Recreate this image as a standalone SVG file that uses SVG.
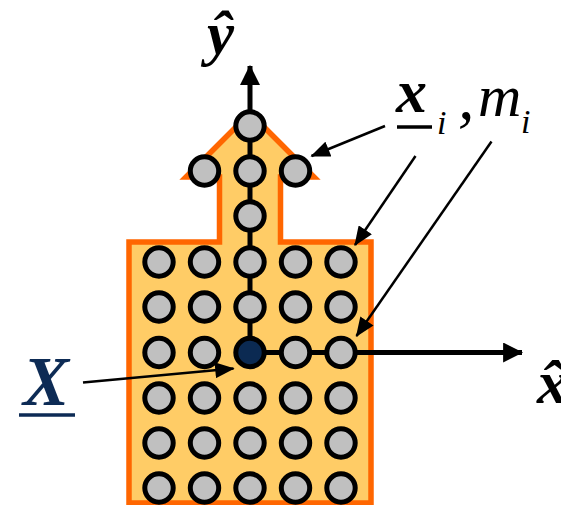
<svg xmlns="http://www.w3.org/2000/svg" width="561" height="505" viewBox="0 0 561 505">
<style>
.p{fill:#C0C0C0;stroke:#000;stroke-width:5}
.c{fill:#0B2A52;stroke:#000;stroke-width:5}
.ax{stroke:#000;stroke-width:5;fill:none}
.an{stroke:#000;stroke-width:2.5;fill:none}
.lbl{font-family:"Liberation Serif","Times New Roman",serif;fill:#000}
.bi{font-weight:bold;font-style:italic}
.it{font-style:italic}
</style>
<defs>
<marker id="axHead" markerUnits="userSpaceOnUse" markerWidth="20" markerHeight="20" viewBox="0 -9 18 18" refX="17" refY="0" orient="auto">
<path d="M0,-9 L18,0 L0,9 Z" fill="#000"/>
</marker>
<marker id="anHead" markerUnits="userSpaceOnUse" markerWidth="20" markerHeight="16" viewBox="0 -7 17 14" refX="16" refY="0" orient="auto">
<path d="M0,-7 L17,0 L0,7 Z" fill="#000"/>
</marker>
</defs>
<g id="body">
<path d="M129,242 H219.5 V177 H186 L250,113 L314,177 H280.5 V242 H371 V503 H129 Z" fill="#FFCC66" stroke="#FF6600" stroke-width="5.5" stroke-linejoin="miter"/>
</g>
<g id="connectors">
<line class="ax" x1="250" y1="352.5" x2="250" y2="66" marker-end="url(#axHead)"/>
<line class="ax" x1="250" y1="352.5" x2="522" y2="352.5" marker-end="url(#axHead)"/>
<line class="an" x1="385" y1="126" x2="311.5" y2="156" marker-end="url(#anHead)"/>
<line class="an" x1="415.5" y1="156" x2="355" y2="245" marker-end="url(#anHead)"/>
<line class="an" x1="491.5" y1="141.5" x2="356.5" y2="336" marker-end="url(#anHead)"/>
<line class="an" x1="83" y1="382.5" x2="233.5" y2="368.5" marker-end="url(#anHead)"/>
</g>
<g id="particles">
<g id="p-top"><circle class="p" cx="250" cy="126" r="14.2"/></g>
<g id="p-h1"><circle class="p" cx="204.5" cy="171" r="14.2"/></g>
<g id="p-h2"><circle class="p" cx="250" cy="171" r="14.2"/></g>
<g id="p-h3"><circle class="p" cx="295.5" cy="171" r="14.2"/></g>
<g id="p-s1"><circle class="p" cx="250" cy="216" r="14.2"/></g>
<g id="p-r1">
<circle class="p" cx="159" cy="262" r="14.2"/><circle class="p" cx="204.5" cy="262" r="14.2"/><circle class="p" cx="250" cy="262" r="14.2"/><circle class="p" cx="295.5" cy="262" r="14.2"/><circle class="p" cx="341" cy="262" r="14.2"/>
</g>
<g id="p-r2">
<circle class="p" cx="159" cy="307" r="14.2"/><circle class="p" cx="204.5" cy="307" r="14.2"/><circle class="p" cx="250" cy="307" r="14.2"/><circle class="p" cx="295.5" cy="307" r="14.2"/><circle class="p" cx="341" cy="307" r="14.2"/>
</g>
<g id="p-r3">
<circle class="p" cx="159" cy="352.5" r="14.2"/><circle class="p" cx="204.5" cy="352.5" r="14.2"/><circle class="c" cx="250" cy="352.5" r="14.2"/><circle class="p" cx="295.5" cy="352.5" r="14.2"/><circle class="p" cx="341" cy="352.5" r="14.2"/>
</g>
<g id="p-r4">
<circle class="p" cx="159" cy="398" r="14.2"/><circle class="p" cx="204.5" cy="398" r="14.2"/><circle class="p" cx="250" cy="398" r="14.2"/><circle class="p" cx="295.5" cy="398" r="14.2"/><circle class="p" cx="341" cy="398" r="14.2"/>
</g>
<g id="p-r5">
<circle class="p" cx="159" cy="443" r="14.2"/><circle class="p" cx="204.5" cy="443" r="14.2"/><circle class="p" cx="250" cy="443" r="14.2"/><circle class="p" cx="295.5" cy="443" r="14.2"/><circle class="p" cx="341" cy="443" r="14.2"/>
</g>
<g id="p-r6">
<circle class="p" cx="159" cy="488" r="14.2"/><circle class="p" cx="204.5" cy="488" r="14.2"/><circle class="p" cx="250" cy="488" r="14.2"/><circle class="p" cx="295.5" cy="488" r="14.2"/><circle class="p" cx="341" cy="488" r="14.2"/>
</g>
</g>
<g id="label-y">
<text class="lbl bi" x="207" y="54" font-size="61">ŷ</text>
</g>
<g id="label-x">
<text class="lbl bi" x="537" y="402.5" font-size="62">x̂</text>
</g>
<g id="label-xi-mi">
<text class="lbl bi" x="396" y="112" font-size="62">x</text>
<line x1="397" y1="127" x2="432" y2="127" stroke="#000" stroke-width="3.5"/>
<text class="lbl it" x="437" y="134" font-size="34">i</text>
<text class="lbl it" x="458" y="119" font-size="66">,</text>
<text class="lbl it" x="478" y="116" font-size="60">m</text>
<text class="lbl it" x="521" y="133" font-size="34">i</text>
</g>
<g id="label-X">
<text class="lbl bi" x="23" y="405" font-size="69" style="fill:#0D2B55">X</text>
<line x1="19" y1="415" x2="75" y2="415" stroke="#0D2B55" stroke-width="3.3"/>
</g>
</svg>
